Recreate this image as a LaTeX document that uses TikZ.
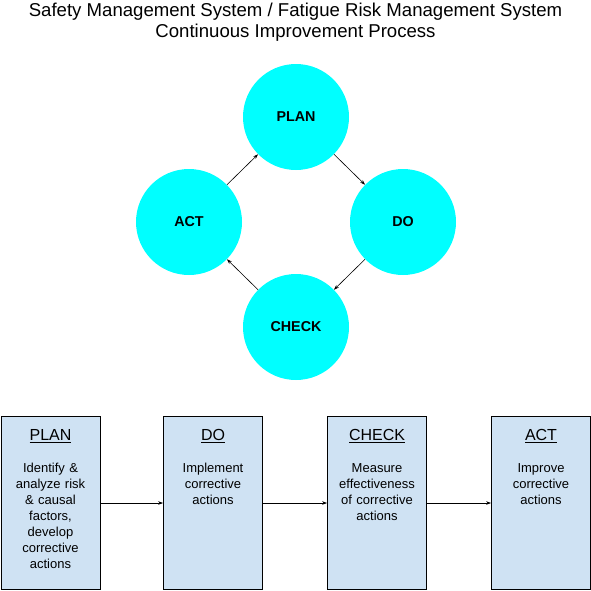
\documentclass[tikz,border=0pt]{standalone}
\usepackage{fontspec}
\setmainfont{Liberation Sans}
\usetikzlibrary{arrows.meta}
\definecolor{cyanfill}{HTML}{00FFFF}
\definecolor{boxfill}{HTML}{CFE2F3}
\begin{document}
\begin{tikzpicture}[x=1pt,y=-1pt,
  circ/.style={circle,fill=cyanfill,minimum size=106pt,inner sep=0pt,font=\fontsize{14.3}{16}\selectfont\bfseries},
  stage/.style={draw=black,line width=0.8pt,fill=boxfill,minimum width=99pt,minimum height=173pt,inner sep=0pt},
  head/.style={font=\fontsize{16}{18}\selectfont,anchor=center},
  body/.style={font=\fontsize{13}{16}\selectfont,align=center,anchor=north,text width=97pt},
  arr/.style={-{Stealth[length=5pt,width=3.5pt]},line width=0.6pt,black}]
\useasboundingbox (0,0) rectangle (591,590);
\node[font=\fontsize{18.6}{21}\selectfont,align=center,anchor=center] (title) at (295.5,22) {Safety Management System / Fatigue Risk Management System\\Continuous Improvement Process};
\node[circ] (cplan) at (296,117) {PLAN};
\node[circ] (cdo) at (403,222) {DO};
\node[circ] (cact) at (189,222) {ACT};
\node[circ] (ccheck) at (296,327) {CHECK};
\draw[arr] (cplan) -- (cdo);
\draw[arr] (cdo) -- (ccheck);
\draw[arr] (ccheck) -- (cact);
\draw[arr] (cact) -- (cplan);
\node[stage] (bplan) at (50.5,503) {};
\node[stage] (bdo) at (213,503) {};
\node[stage] (bcheck) at (377,503) {};
\node[stage] (bact) at (541,503) {};
\node[head] (hplan) at (50.5,436) {\underline{PLAN}};
\node[head] (hdo) at (213,436) {\underline{DO}};
\node[head] (hcheck) at (377,436) {\underline{CHECK}};
\node[head] (hact) at (541,436) {\underline{ACT}};
\node[body] (tplan) at (50.5,460) {Identify \&\\analyze risk\\\& causal\\factors,\\develop\\corrective\\actions};
\node[body] (tdo) at (213,460) {Implement\\corrective\\actions};
\node[body] (tcheck) at (377,460) {Measure\\effectiveness\\of corrective\\actions};
\node[body] (tact) at (541,460) {Improve\\corrective\\actions};
\draw[arr] (bplan) -- (bdo);
\draw[arr] (bdo) -- (bcheck);
\draw[arr] (bcheck) -- (bact);
\end{tikzpicture}
\end{document}
